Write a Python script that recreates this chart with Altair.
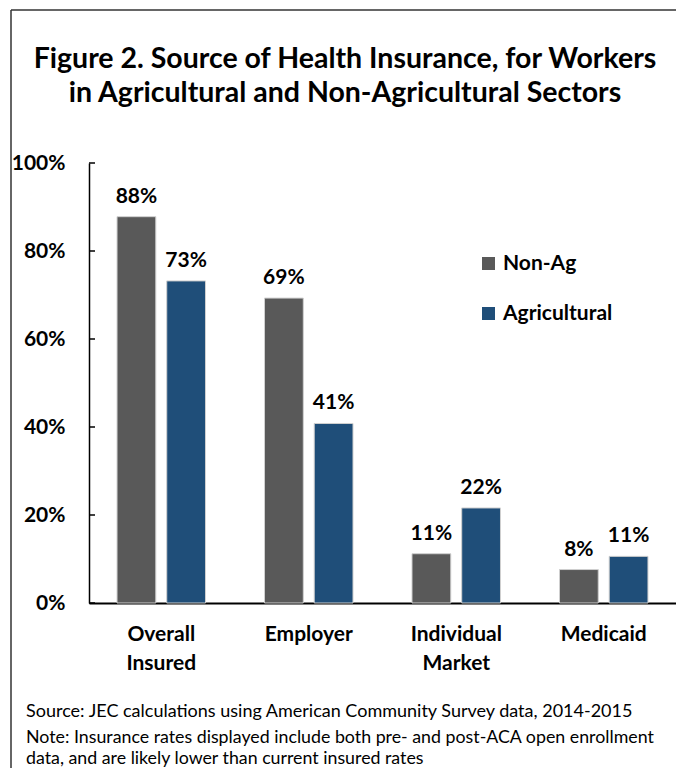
import altair as alt
import pandas as pd

categories = ["Overall Insured", "Employer", "Individual Market", "Medicaid"]
series = ["Non-Ag", "Agricultural"]
non_ag = [87.8, 69.3, 11.2, 7.6]
ag = [73.2, 40.8, 21.6, 10.6]
colors = ["#595959", "#1F4E79"]
y_ticks = [0, 20, 40, 60, 80, 100]

title_text = "Figure 2. Source of Health Insurance, for Workers\nin Agricultural and Non-Agricultural Sectors"
source_text = "Source: JEC calculations using American Community Survey data, 2014-2015"
note_text = "Note: Insurance rates displayed include both pre- and post-ACA open enrollment\ndata, and are likely lower than current insured rates"

rows = []
for c, a, b in zip(categories, non_ag, ag):
    rows.append({"category": c, "series": series[0], "value": a})
    rows.append({"category": c, "series": series[1], "value": b})
df = pd.DataFrame(rows)

FONT = "Lato"
W, H = 587, 440
LFS = 21

x_enc = alt.X(
    "category:N", sort=categories,
    scale=alt.Scale(paddingInner=0.4, paddingOuter=0.19),
    axis=alt.Axis(title=None, labelAngle=0, labelExpr="split(datum.label, ' ')",
                  labelFont=FONT, labelFontSize=LFS, labelFontWeight="bold",
                  labelColor="black", labelBaseline="alphabetic", labelPadding=37,
                  labelLineHeight=29, ticks=False, tickSize=0,
                  domainColor="black", domainWidth=2),
)
xoff = alt.XOffset("series:N", sort=series, scale=alt.Scale(paddingInner=0.22))
y_scale = alt.Scale(domain=[0, 100])

y_axis = alt.Axis(title=None, values=y_ticks, labelExpr="datum.value + '%'",
                  grid=False, ticks=False, tickSize=0, labelPadding=24,
                  labelFont=FONT, labelFontSize=LFS, labelFontWeight="bold",
                  labelColor="black", domainColor="black", domainWidth=1.5)

base = alt.Chart(df)

bars = base.mark_bar(stroke="#d0d0d0", strokeWidth=1).encode(
    x=x_enc,
    xOffset=xoff,
    y=alt.Y("value:Q", scale=y_scale, axis=y_axis),
    color=alt.Color("series:N", sort=series,
                    scale=alt.Scale(domain=series, range=colors),
                    legend=alt.Legend(title=None, orient="none", legendX=389, legendY=90,
                                      symbolType="square", symbolSize=169,
                                      symbolStrokeWidth=0, labelFont=FONT,
                                      labelFontSize=LFS, labelFontWeight="bold",
                                      labelColor="black", labelOffset=4,
                                      rowPadding=28, padding=0)),
)

labels = base.transform_calculate(
    lab="format(datum.value, '.0f') + '%'"
).mark_text(font=FONT, fontSize=LFS, fontWeight="bold", color="black",
            baseline="alphabetic", dy=-14).encode(
    x=alt.X("category:N", sort=categories),
    xOffset=xoff,
    y=alt.Y("value:Q", scale=y_scale),
    text="lab:N",
)

ticks = alt.Chart(pd.DataFrame({"v": y_ticks})).mark_rule(
    color="black", strokeWidth=1.5
).encode(
    y=alt.Y("v:Q", scale=y_scale, title=None),
    x=alt.value(0), x2=alt.value(6),
)

one = alt.Data(values=[{"k": 1}])

title = alt.Chart(one).mark_text(
    font=FONT, fontSize=28.5, fontWeight="bold", color="black",
    align="center", baseline="alphabetic", lineBreak="\n", lineHeight=34,
).encode(x=alt.value(256), y=alt.value(-95), text=alt.value(title_text))

source = alt.Chart(one).mark_text(
    font=FONT, fontSize=18, color="black", align="left", baseline="alphabetic",
).encode(x=alt.value(-63), y=alt.value(554), text=alt.value(source_text))

note = alt.Chart(one).mark_text(
    font=FONT, fontSize=17.8, color="black", align="left", baseline="alphabetic",
    lineBreak="\n", lineHeight=21,
).encode(x=alt.value(-63), y=alt.value(580), text=alt.value(note_text))

top_border = alt.Chart(one).mark_rule(color="#333333", strokeWidth=1.5).encode(
    x=alt.value(-78), x2=alt.value(W), y=alt.value(-153))
left_border = alt.Chart(one).mark_rule(color="#333333", strokeWidth=1.5).encode(
    x=alt.value(-78), y=alt.value(-153), y2=alt.value(610))

chart = alt.layer(
    top_border, left_border, bars, labels, ticks, title, source, note
).properties(
    width=W, height=H,
    padding={"left": 81, "top": 155, "right": 0, "bottom": 165},
    autosize=alt.AutoSizeParams(type="none"),
    background="white",
).configure_view(stroke=None)

chart.save("out.html", embed_options={"renderer": "svg", "actions": False})
